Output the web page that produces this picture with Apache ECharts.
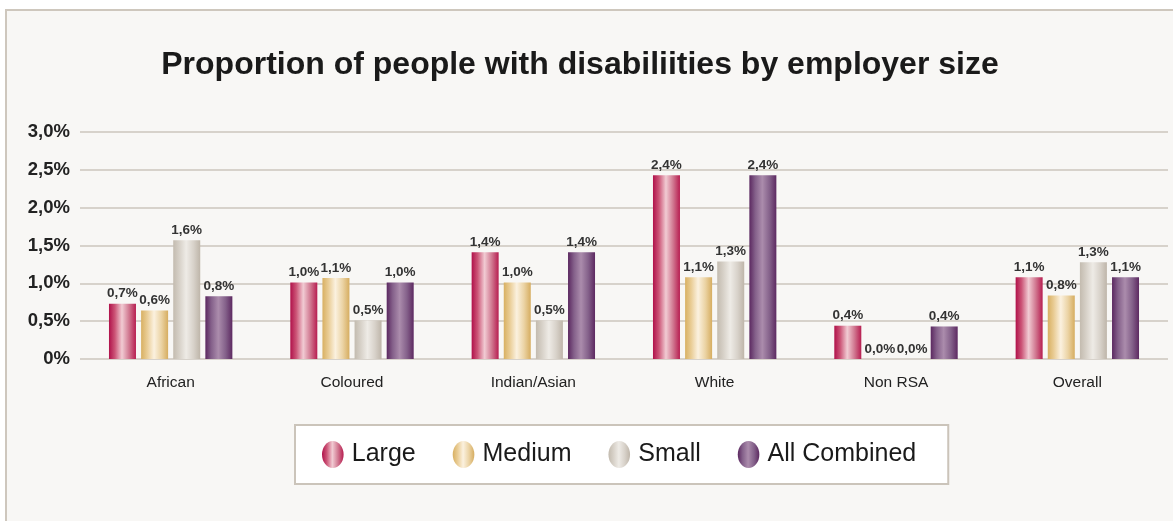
<!DOCTYPE html>
<html>
<head>
<meta charset="utf-8">
<script src="https://cdn.jsdelivr.net/npm/echarts@6/dist/echarts.min.js"></script>
<style>
  html, body { margin: 0; padding: 0; background: #ffffff; }
  #chart { width: 1173px; height: 521px; }
</style>
</head>
<body>
<div id="chart"></div>
<script>
// Population groups on the category axis
var categories = ['African', 'Coloured', 'Indian/Asian', 'White', 'Non RSA', 'Overall'];

// Share of employees with disabilities (%) by employer size
var largeValues    = [0.73, 1.01, 1.41, 2.43, 0.44, 1.08];
var mediumValues   = [0.64, 1.07, 1.01, 1.08, 0.00, 0.84];
var smallValues    = [1.57, 0.51, 0.51, 1.29, 0.00, 1.28];
var combinedValues = [0.83, 1.01, 1.41, 2.43, 0.43, 1.08];

var seriesNames = ['Large', 'Medium', 'Small', 'All Combined'];

// Y axis range and step (percent)
var yMin = 0, yMax = 3, yStep = 0.5;

function pct1(v) {
  return (Math.round(v * 10) / 10).toFixed(1).replace('.', ',') + '%';
}

// Horizontal "cylinder" shading for each bar colour
function shade(edgeL, mid, light, mid2, edgeR) {
  return {
    type: 'linear', x: 0, y: 0, x2: 1, y2: 0,
    colorStops: [
      { offset: 0, color: edgeL },
      { offset: 0.22, color: mid },
      { offset: 0.48, color: light },
      { offset: 0.75, color: mid2 },
      { offset: 1, color: edgeR }
    ]
  };
}

var fills = [
  shade('#b0114a', '#cc5577', '#f1cbd3', '#d0768f', '#b71d50'),
  shade('#d8b062', '#e9cc94', '#fbf1df', '#ebd3a4', '#d6ad60'),
  shade('#c3bbaf', '#d6d0c7', '#eeebe6', '#d8d2ca', '#beb5a9'),
  shade('#5b2860', '#84608a', '#ab8cac', '#84618a', '#5d2961')
];

var dataSets = [largeValues, mediumValues, smallValues, combinedValues];

var series = seriesNames.map(function (name, i) {
  return {
    name: name,
    type: 'bar',
    data: dataSets[i],
    barWidth: 27,
    barGap: '19%',
    itemStyle: { color: fills[i] },
    label: {
      show: true,
      position: 'top',
      distance: 3,
      fontFamily: 'Liberation Sans, Arial, sans-serif',
      fontSize: 13.5,
      fontWeight: 'bold',
      color: '#333333',
      formatter: function (p) { return pct1(p.value); }
    }
  };
});

var chart = echarts.init(document.getElementById('chart'), null, { renderer: 'canvas' });

chart.setOption({
  animation: false,
  backgroundColor: '#ffffff',
  graphic: [
    {
      type: 'rect',
      z: -10,
      silent: true,
      shape: { x: 6, y: 10, width: 1200, height: 540 },
      style: { fill: '#f8f7f5', stroke: '#cec7bd', lineWidth: 2 }
    }
  ],
  title: {
    text: 'Proportion of people with disabiliities by employer size',
    left: 575,
    top: 44,
    textAlign: 'center',
    textStyle: {
      fontFamily: 'Liberation Sans, Arial, sans-serif',
      fontSize: 32,
      fontWeight: 'bold',
      color: '#1a1a1a'
    }
  },
  legend: {
    data: seriesNames,
    left: 295,
    top: 425,
    orient: 'horizontal',
    backgroundColor: '#ffffff',
    borderColor: '#cbc4ba',
    borderWidth: 2,
    padding: [16, 32, 16, 27],
    itemGap: 37,
    itemWidth: 22,
    itemHeight: 27,
    icon: 'path://M40,0 A40,50 0 1,1 40,100 A40,50 0 1,1 40,0 Z',
    textStyle: {
      fontFamily: 'Liberation Sans, Arial, sans-serif',
      fontSize: 25,
      color: '#1a1a1a',
      padding: [0, 0, 0, 3]
    }
  },
  grid: {
    left: 80,
    right: 5,
    top: 132,
    bottom: 162,
    containLabel: false
  },
  xAxis: {
    type: 'category',
    data: categories,
    axisLine: { show: false },
    axisTick: { show: false },
    axisLabel: {
      margin: 16,
      fontFamily: 'Liberation Sans, Arial, sans-serif',
      fontSize: 15.5,
      color: '#222222'
    }
  },
  yAxis: {
    type: 'value',
    min: yMin,
    max: yMax,
    interval: yStep,
    axisLine: { show: false },
    axisTick: { show: false },
    splitLine: { lineStyle: { color: '#cdc6bc', width: 1.5 } },
    axisLabel: {
      margin: 10,
      fontFamily: 'Liberation Sans, Arial, sans-serif',
      fontSize: 18.5,
      fontWeight: 'bold',
      color: '#222222',
      formatter: function (v) { return v === 0 ? '0%' : v.toFixed(1).replace('.', ',') + '%'; }
    }
  },
  series: series
});
</script>
</body>
</html>
